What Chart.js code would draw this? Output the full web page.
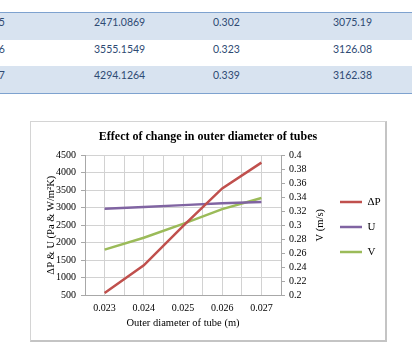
<!DOCTYPE html>
<html>
<head>
<meta charset="utf-8">
<script src="https://cdn.jsdelivr.net/npm/chart.js@4/dist/chart.umd.min.js"></script>
<style>
  html, body { margin: 0; padding: 0; background: #fff; }
  body { width: 412px; height: 348px; position: relative; overflow: hidden; }
  #tbl { position: absolute; left: 0; top: 12px; width: 412px; height: 80px;
         border-top: 1px solid #7ea2cf; border-bottom: 1px solid #7ea2cf; }
  .row { position: absolute; left: 0; width: 412px; height: 27px; }
  .cell { position: absolute; top: 3px; font-family: Lato, "Open Sans", sans-serif; font-size: 10.5px;
          color: #2e4a73; line-height: 12px; white-space: nowrap; }
  #box { position: absolute; left: 30px; top: 121px; width: 354px; height: 218px;
         border-top: 1px solid #d4d4d4; border-left: 1px solid #d4d4d4;
         border-right: 2px solid #c4c4c4; border-bottom: 2px solid #c4c4c4; }
  #c { position: absolute; left: 0; top: 0; }
</style>
</head>
<body>
<div id="tbl"></div>
<div id="box"><canvas id="c" width="354" height="218"></canvas></div>
<script>
// ---- data ----
const diameters = [0.023, 0.024, 0.025, 0.026, 0.027];
const xLabels = ['0.023', '0.024', '0.025', '0.026', '0.027'];
const dP = [560, 1350, 2471.0869, 3555.1549, 4294.1264];
const U = [2970, 3022, 3075.19, 3126.08, 3162.38];
const V = [0.265, 0.282, 0.302, 0.323, 0.339];
const seriesNames = ['\u0394P', 'U', 'V'];
const tableRows = [2, 3, 4];

// ---- table (top, partially cropped) ----
const tbl = document.getElementById('tbl');
tableRows.forEach((idx, r) => {
  const row = document.createElement('div');
  row.className = 'row';
  row.style.top = (r * 26.7) + 'px';
  row.style.background = (r % 2 === 0) ? '#d8e3f0' : '#ffffff';
  const cells = [
    [xLabels[idx], -22],
    [String(dP[idx]), 94],
    [String(V[idx]), 213],
    [String(U[idx]), 333]
  ];
  cells.forEach(([t, x]) => {
    const c = document.createElement('div');
    c.className = 'cell';
    c.style.left = x + 'px';
    c.textContent = t;
    row.appendChild(c);
  });
  tbl.appendChild(row);
});

// ---- chart ----
const serif = '"Liberation Serif", "Times New Roman", serif';
const step = diameters[1] - diameters[0];
const rightTitle = {
  id: 'rightTitle',
  afterDraw(chart) {
    const s = chart.scales.y1;
    const ctx = chart.ctx;
    ctx.save();
    ctx.font = '10.5px ' + serif;
    ctx.fillStyle = '#000';
    ctx.textAlign = 'center';
    ctx.textBaseline = 'middle';
    ctx.translate(s.right - 6, (s.top + s.bottom) / 2);
    ctx.rotate(-Math.PI / 2);
    ctx.fillText('V (m/s)', 0, 0);
    ctx.restore();
  }
};

new Chart(document.getElementById('c'), {
  type: 'line',
  data: {
    datasets: [
      { label: seriesNames[0], data: diameters.map((d, i) => ({x: d, y: dP[i]})),
        borderColor: '#c0504d', backgroundColor: '#c0504d', borderWidth: 2.5, pointRadius: 0, yAxisID: 'y' },
      { label: seriesNames[1], data: diameters.map((d, i) => ({x: d, y: U[i]})),
        borderColor: '#8064a2', backgroundColor: '#8064a2', borderWidth: 2.5, pointRadius: 0, yAxisID: 'y' },
      { label: seriesNames[2], data: diameters.map((d, i) => ({x: d, y: V[i]})),
        borderColor: '#9bbb59', backgroundColor: '#9bbb59', borderWidth: 2.5, pointRadius: 0, yAxisID: 'y1' }
    ]
  },
  options: {
    responsive: false,
    animation: false,
    devicePixelRatio: 1,
    layout: { padding: { left: 0, right: 0, top: 0, bottom: 8 } },
    plugins: {
      tooltip: { enabled: false },
      title: {
        display: true,
        text: 'Effect of change in outer diameter of tubes',
        font: { family: serif, size: 12, weight: 'bold' },
        color: '#000',
        padding: { top: 7.5, bottom: 11.5 }
      },
      legend: {
        position: 'right',
        labels: {
          usePointStyle: true,
          pointStyle: 'line',
          pointStyleWidth: 22,
          padding: 14,
          font: { family: serif, size: 11 },
          color: '#000'
        }
      }
    },
    scales: {
      x: {
        type: 'linear',
        min: diameters[0] - step / 2,
        max: diameters[diameters.length - 1] + step / 2,
        afterBuildTicks: (s) => {
          const t = [];
          diameters.forEach(d => { t.push({value: d - step / 2}); t.push({value: d}); });
          t.push({value: diameters[diameters.length - 1] + step / 2});
          s.ticks = t;
        },
        afterFit: (s) => { s.height = 37; },
        grid: { color: '#d2d2d2', drawTicks: false },
        border: { color: '#a8a8a8' },
        ticks: {
          autoSkip: false, maxRotation: 0, padding: 7,
          font: { family: serif, size: 10 }, color: '#000',
          callback: (v) => {
            const i = diameters.findIndex(d => Math.abs(d - v) < 1e-9);
            return i >= 0 ? xLabels[i] : '';
          }
        },
        title: { display: true, text: 'Outer diameter of tube (m)', font: { family: serif, size: 10.5 }, color: '#000',
                 padding: { top: 2, bottom: 2 } }
      },
      y: {
        position: 'left',
        min: 500, max: 4500,
        ticks: { stepSize: 500, autoSkip: false, padding: 5, font: { family: serif, size: 10 }, color: '#000',
                 callback: (v) => String(v) },
        afterFit: (s) => { s.width = 54; },
        grid: { color: '#d2d2d2', tickLength: 4, tickColor: '#a8a8a8' },
        border: { color: '#a8a8a8' },
        title: { display: true, text: '\u0394P & U (Pa & W/m\u00B2K)', font: { family: serif, size: 10.5 }, color: '#000',
                 padding: { top: 14, bottom: 0 } }
      },
      y1: {
        position: 'right',
        min: 0.2, max: 0.4,
        ticks: { stepSize: 0.02, autoSkip: false, padding: 4, font: { family: serif, size: 10 }, color: '#000',
                 callback: (v) => String(+v.toFixed(2)) },
        afterFit: (s) => { s.width = 45; },
        grid: { drawOnChartArea: false, tickLength: 4, tickColor: '#a8a8a8' },
        border: { color: '#a8a8a8' }
      }
    }
  },
  plugins: [rightTitle]
});
</script>
</body>
</html>
